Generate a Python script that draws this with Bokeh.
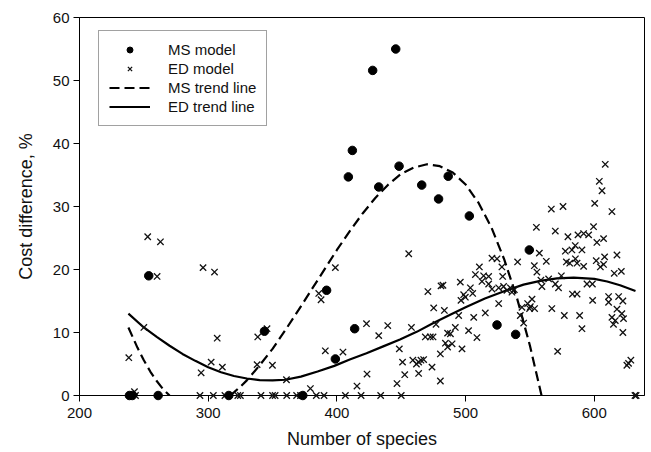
import numpy as np
from bokeh.plotting import figure
from bokeh.models import Range1d, Legend, LegendItem, FixedTicker
from bokeh.embed import file_html
from bokeh.resources import INLINE

# MS model points (Number of species, cost difference %)
ms_x = [238.8, 241, 253.8, 261.1, 316, 343.7, 373.5, 392, 398.8, 408.9, 412, 413.8,
        427.8, 432.5, 445.7, 448.3, 465.9, 479, 486.5, 502.9, 524.4, 538.9, 549.5]
ms_y = [0, 0, 19.0, 0, 0, 10.2, 0, 16.7, 5.8, 34.7, 38.9, 10.6,
        51.6, 33.1, 55.0, 36.4, 33.4, 31.2, 34.8, 28.5, 11.2, 9.7, 23.1]

# ED model points
ed_x = [253.0, 262.9, 260.3, 296.0, 304.9, 250.0, 238.3, 307.0, 302.3, 311.0, 294.5, 338.5, 338.0, 242.7,
        243.5, 293.6, 304, 313, 323, 325, 341, 350, 352, 361, 368.7, 371.7, 384, 390, 406.6, 418.8, 434, 450,
        631.6, 632.5,
        455.8, 398.8, 385.9, 387.7, 480.9, 470.7, 475.2, 483.5, 345.7, 423, 439.5, 432.5, 457.9, 477,
        468.7, 472.6, 474.7, 486, 484.3, 486, 391, 404.7, 448.5, 451, 459, 461.8, 463.5, 465.3, 467.4,
        463.5, 473.9, 452.7, 446.7, 480.4, 423.4, 415.6, 379.4, 360.8, 349.9,
        608.5, 603.9, 606, 600.3, 575.7, 566.6, 613.7, 555, 569.7, 579.5, 587.3, 591.7, 595.6, 599.4, 602,
        607.2, 585.2, 582.6, 577.5, 590.4, 557.3, 562.7, 540.4, 520.5, 524.4, 510.7, 507.6, 514, 517.9,
        512.7, 528.2, 528.8, 553.4, 578.3, 580.9, 585.3, 586.6, 591.7, 601.5, 604.7, 608, 607.2, 617.6,
        615.5, 621, 574.4, 555.4, 558.5, 564.5, 559.3, 572.2, 569.7, 482.4, 494.6, 506.3, 515.3, 495.9,
        503.7, 499.8, 498.5, 505.5, 496.4, 517.9, 520.5, 525.7, 529.5, 532.1, 534.8, 536, 537.9, 525.7,
        492, 488.2, 489.5, 497.2, 480.4, 502.3, 508.8, 542.5, 545.1, 543.8, 548.2, 550.3, 551.6, 549.7,
        553.6, 567, 576.7, 588.6, 590.4, 571.5, 598.7, 611.1, 618.9, 611.1, 622.2, 617.6, 621.4, 613.7,
        616.3, 622.7, 614.9, 622.2, 626.6, 628.4, 625.3, 594.3, 583, 586.6, 598.5]
ed_y = [25.2, 24.4, 18.9, 20.3, 19.6, 10.8, 6.0, 9.1, 5.3, 4.5, 3.6, 9.3, 4.9, 0.6,
        0, 0, 0, 0, 0, 0, 0, 0, 0, 0, 0, 0, 0, 0, 0, 0, 0, 0,
        0, 0,
        22.5, 20.3, 16.2, 15.2, 17.4, 16.5, 13.9, 13.5, 10.6, 11.4, 11.1, 9.5, 10.8, 11.3,
        9.3, 9.3, 9.3, 9.9, 8.3, 7.7, 7.1, 6.9, 7.4, 5.3, 5.6, 5.0, 5.3, 5.6, 5.7,
        3.5, 4.5, 3.3, 1.9, 2.3, 3.4, 1.5, 1.1, 2.5, 4.8,
        36.7, 34.0, 32.5, 30.5, 30.0, 29.6, 29.2, 26.7, 26.1, 25.2, 25.5, 25.7, 25.5, 26.8, 24.3,
        24.9, 23.8, 23.1, 22.9, 23.1, 22.6, 21.3, 21.2, 21.8, 21.7, 20.4, 19.2, 19.0, 18.9,
        18.1, 20.4, 18.9, 20.6, 21.2, 21.0, 21.7, 21.0, 20.5, 21.4, 20.4, 22.0, 20.8, 22.3,
        19.4, 19.7, 19.0, 19.6, 18.3, 18.5, 17.3, 17.1, 17.7, 17.5, 12.7, 12.4, 13.1, 18.0,
        17.1, 15.6, 16.0, 16.2, 15.1, 17.7, 16.9, 17.1, 17.3, 16.7, 17.1, 16.4, 16.8, 14.6,
        10.8, 9.8, 8.2, 7.4, 6.6, 10.3, 9.2, 12.7, 11.5, 14.0, 14.6, 14.1, 15.3, 13.8,
        13.8, 13.8, 12.7, 12.7, 10.6, 7.0, 15.1, 15.7, 15.7, 14.8, 15.0, 13.7, 13.0, 12.4,
        11.9, 12.2, 11.3, 10.0, 5.1, 5.6, 4.8, 17.7, 16.1, 16.1, 17.7]

# MS trend line (hidden below the x axis between the two segments)
ms_trend_x = [238, 245, 250, 255, 260, 265, 270, np.nan,
              317, 320, 325, 330, 340, 350, 360, 370, 380, 390, 400, 410, 420, 430, 440,
              450, 460, 470, 480, 490, 500, 510, 520, 530, 540, 550, 559]
ms_trend_y = [10.8, 7.6, 5.6, 3.8, 2.3, 1.0, 0, np.nan,
              0, 0.5, 1.4, 2.4, 4.8, 7.4, 10.4, 13.5, 16.7, 19.9, 23.1, 26.1, 28.9, 31.4, 33.5,
              35.2, 36.2, 36.7, 36.4, 35.4, 33.5, 30.6, 26.7, 21.6, 15.4, 7.9, 0]

# ED trend line
ed_trend_x = [238, 250, 260, 270, 280, 290, 300, 310, 320, 330, 340, 350, 360, 372, 385, 398, 410,
              423, 436, 449, 462, 475, 488, 500, 515, 532, 545, 558, 571, 584, 600, 610, 620, 632]
ed_trend_y = [13.0, 10.8, 9.3, 7.9, 6.6, 5.5, 4.5, 3.7, 3.1, 2.7, 2.45, 2.4, 2.5, 3.0, 3.8, 4.7, 5.7,
              6.7, 7.8, 8.9, 10.1, 11.5, 12.8, 14.0, 15.4, 16.7, 17.6, 18.2, 18.6, 18.7, 18.5, 18.1, 17.5, 16.6]

x_ticks = [200, 300, 400, 500, 600]
y_ticks = [0, 10, 20, 30, 40, 50, 60]

FONT = "Liberation Sans"

p = figure(width=651, height=452, output_backend="svg", toolbar_location=None,
           x_range=Range1d(200, 639), y_range=Range1d(0, 60),
           min_border_left=79, min_border_right=7, min_border_top=17, min_border_bottom=57)
p.xgrid.visible = False
p.ygrid.visible = False
p.outline_line_color = "black"
p.outline_line_width = 1
p.background_fill_color = "white"
p.border_fill_color = "white"

for ax in (p.xaxis[0], p.yaxis[0]):
    ax.axis_line_color = "black"
    ax.major_tick_line_color = "black"
    ax.minor_tick_line_color = None
    ax.major_tick_in = 0
    ax.major_tick_out = 6
    ax.major_label_text_font = FONT
    ax.major_label_text_font_size = "15px"
    ax.major_label_text_color = "#111111"
    ax.axis_label_text_font = FONT
    ax.axis_label_text_font_size = "18px"
    ax.axis_label_text_font_style = "normal"
    ax.axis_label_text_color = "#111111"

p.xaxis.ticker = FixedTicker(ticks=x_ticks)
p.yaxis.ticker = FixedTicker(ticks=y_ticks)
p.xaxis.axis_label = "Number of species"
p.yaxis.axis_label = "Cost difference, %"
p.xaxis.major_label_standoff = 6
p.yaxis.major_label_standoff = 4
p.xaxis.axis_label_standoff = 8
p.yaxis.axis_label_standoff = 14

r_ed_trend = p.line(ed_trend_x, ed_trend_y, line_color="black", line_width=2.2)
r_ms_trend = p.line(ms_trend_x, ms_trend_y, line_color="black", line_width=2.2, line_dash="10 5")
r_ed = p.scatter(ed_x, ed_y, marker="x", size=9, line_color="#111111", line_width=1.3, level="overlay")
r_ms = p.scatter(ms_x, ms_y, marker="circle", size=8.5, fill_color="black", line_color="black", level="overlay")

legend = Legend(items=[
    LegendItem(label="MS model", renderers=[r_ms]),
    LegendItem(label="ED model", renderers=[r_ed]),
    LegendItem(label="MS trend line", renderers=[r_ms_trend]),
    LegendItem(label="ED trend line", renderers=[r_ed_trend]),
], location=(19, 269))
legend.label_text_font = FONT
legend.label_text_font_size = "15px"
legend.label_text_color = "#111111"
legend.glyph_width = 41
legend.glyph_height = 15
legend.label_height = 15
legend.label_standoff = 18
legend.spacing = 2
legend.padding = 10
legend.margin = 0
legend.border_line_color = "#444444"
legend.border_line_width = 1
legend.background_fill_color = "white"
legend.background_fill_alpha = 1
p.add_layout(legend)

open("out.html", "w").write(file_html(p, INLINE))
